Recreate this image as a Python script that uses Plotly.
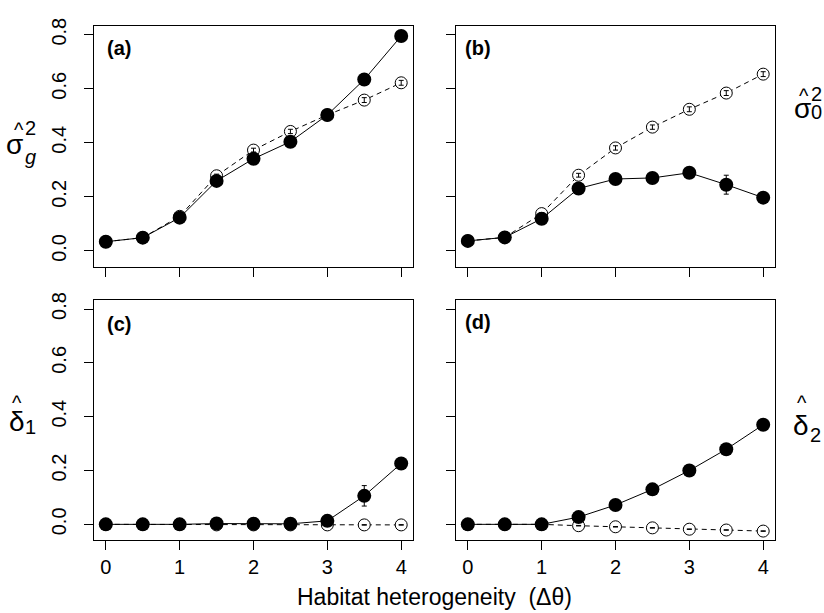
import plotly.graph_objects as go

x = [0, 0.5, 1, 1.5, 2, 2.5, 3, 3.5, 4]

# panel (a) sigma_g^2
a_filled = [0.034, 0.049, 0.123, 0.259, 0.341, 0.404, 0.503, 0.634, 0.795]
a_open = [0.034, 0.049, 0.128, 0.278, 0.373, 0.442, 0.503, 0.558, 0.622]
a_filled_err = [0.002, 0.002, 0.003, 0.004, 0.004, 0.004, 0.005, 0.006, 0.006]
a_open_err = [0.002, 0.002, 0.004, 0.006, 0.007, 0.008, 0.008, 0.009, 0.009]

# panel (b) sigma_0^2
b_filled = [0.037, 0.050, 0.119, 0.231, 0.266, 0.270, 0.289, 0.245, 0.197]
b_open = [0.037, 0.050, 0.138, 0.280, 0.381, 0.458, 0.524, 0.584, 0.654]
b_filled_err = [0.002, 0.002, 0.003, 0.005, 0.005, 0.006, 0.008, 0.035, 0.008]
b_open_err = [0.002, 0.002, 0.004, 0.007, 0.008, 0.008, 0.009, 0.009, 0.009]

# panel (c) delta_1
c_filled = [0.0, 0.0, 0.0, 0.003, 0.002, 0.002, 0.013, 0.106, 0.226]
c_open = [0.0, 0.0, 0.0, -0.002, -0.002, -0.002, -0.002, -0.002, -0.002]
c_filled_err = [0.0005, 0.0005, 0.0005, 0.002, 0.002, 0.002, 0.004, 0.038, 0.006]
c_open_err = [0.0005, 0.0005, 0.0005, 0.001, 0.001, 0.001, 0.001, 0.001, 0.001]

# panel (d) delta_2
d_filled = [0.0, 0.0, 0.0, 0.027, 0.072, 0.130, 0.200, 0.279, 0.370]
d_open = [0.0, 0.0, 0.0, -0.005, -0.009, -0.013, -0.018, -0.021, -0.025]
d_filled_err = [0.0005, 0.0005, 0.0005, 0.002, 0.003, 0.003, 0.004, 0.005, 0.006]
d_open_err = [0.0005, 0.0005, 0.0005, 0.001, 0.001, 0.001, 0.001, 0.001, 0.001]

panel_labels = ["(a)", "(b)", "(c)", "(d)"]
x_ticks = [0, 1, 2, 3, 4]
y_ticks = [0.0, 0.2, 0.4, 0.6, 0.8]
x_title = "Habitat heterogeneity\u00a0\u00a0(\u0394\u03b8)"

W, H = 824, 613
FONT = "Liberation Sans, Arial, Helvetica, sans-serif"

def px(v):
    return v / W

def py(v):
    return 1 - v / H

panels = [
    dict(filled=a_filled, open=a_open, fe=a_filled_err, oe=a_open_err,
         xd=[px(94), px(413)], yd=[py(262), py(18)]),
    dict(filled=b_filled, open=b_open, fe=b_filled_err, oe=b_open_err,
         xd=[px(456), px(775)], yd=[py(262), py(18)]),
    dict(filled=c_filled, open=c_open, fe=c_filled_err, oe=c_open_err,
         xd=[px(94), px(413)], yd=[py(539), py(296)]),
    dict(filled=d_filled, open=d_open, fe=d_filled_err, oe=d_open_err,
         xd=[px(456), px(775)], yd=[py(539), py(296)]),
]

fig = go.Figure()
layout = dict(
    width=W, height=H,
    margin=dict(l=0, r=0, t=0, b=0),
    paper_bgcolor="white", plot_bgcolor="white",
    showlegend=False,
    font=dict(family=FONT, color="black", size=20),
)

for i, p in enumerate(panels):
    n = "" if i == 0 else str(i + 1)
    xa, ya = "x" + n, "y" + n
    # open series (dashed)
    fig.add_trace(go.Scatter(
        x=x, y=p["open"], xaxis=xa, yaxis=ya, mode="lines+markers",
        line=dict(color="black", width=1, dash="5px,4px"),
        marker=dict(symbol="circle", size=12, color="white",
                    line=dict(color="black", width=1)),
        cliponaxis=False,
    ))
    # error bars of the open series, drawn on top of the open circles
    fig.add_trace(go.Scatter(
        x=x, y=p["open"], xaxis=xa, yaxis=ya, mode="markers",
        marker=dict(size=1, color="rgba(0,0,0,0)"),
        error_y=dict(type="data", array=p["oe"], color="black", thickness=1, width=2.5),
        cliponaxis=False,
    ))
    # filled series (solid)
    fig.add_trace(go.Scatter(
        x=x, y=p["filled"], xaxis=xa, yaxis=ya, mode="lines+markers",
        line=dict(color="black", width=1),
        marker=dict(symbol="circle", size=14, color="black"),
        error_y=dict(type="data", array=p["fe"], color="black", thickness=1, width=2.5),
        cliponaxis=False,
    ))
    bottom = i >= 2
    left = i % 2 == 0
    layout["xaxis" + n] = dict(
        domain=p["xd"], range=[-0.16, 4.16], anchor=ya,
        tickvals=x_ticks, ticktext=[str(t) for t in x_ticks],
        showticklabels=bottom, ticks="outside", ticklen=9, tickwidth=1,
        tickcolor="black", showline=True, linecolor="black", linewidth=1,
        mirror=True, showgrid=False, zeroline=False,
        tickfont=dict(size=20, family=FONT),
    )
    layout["yaxis" + n] = dict(
        domain=p["yd"], range=[-0.058, 0.833], anchor=xa,
        tickvals=y_ticks, ticktext=["%.1f" % t for t in y_ticks],
        showticklabels=left, ticks="outside", ticklen=9, tickwidth=1,
        tickcolor="black", showline=True, linecolor="black", linewidth=1,
        mirror=True, showgrid=False, zeroline=False, tickangle=-90,
        ticklabelstandoff=10,
        tickfont=dict(size=20, family=FONT),
    )

ann = []
label_pos = [(105, 41), (463, 41), (105, 320), (463, 318)]
for lab, (lx, ly) in zip(panel_labels, label_pos):
    ann.append(dict(text="<b>%s</b>" % lab, x=px(lx), y=py(ly), xref="paper", yref="paper",
                    xanchor="left", yanchor="middle", showarrow=False,
                    font=dict(size=20, family=FONT)))

def add_sym(main, hatx, haty, mx, my, sup=None, sub=None, sx=None, supy=None, suby=None):
    ann.append(dict(text=main, x=px(mx), y=py(my), xref="paper", yref="paper",
                    xanchor="center", yanchor="middle", showarrow=False,
                    font=dict(size=28, family=FONT)))
    ann.append(dict(text="^", x=px(hatx), y=py(haty), xref="paper", yref="paper",
                    xanchor="center", yanchor="middle", showarrow=False,
                    font=dict(size=20, family=FONT)))
    if sup is not None:
        ann.append(dict(text=sup, x=px(sx), y=py(supy), xref="paper", yref="paper",
                        xanchor="left", yanchor="middle", showarrow=False,
                        font=dict(size=20, family=FONT)))
    if sub is not None:
        ann.append(dict(text=sub, x=px(sx), y=py(suby), xref="paper", yref="paper",
                        xanchor="left", yanchor="middle", showarrow=False,
                        font=dict(size=20, family=FONT)))

# left top: sigma_g^2
add_sym("\u03c3", 19, 124, 15, 138, sup="2", sub="<i>g</i>", sx=23, supy=122, suby=151)
# right top: sigma_0^2
add_sym("\u03c3", 804, 89, 802, 102, sup="2", sub="0", sx=809, supy=87, suby=105)
# left bottom: delta_1
add_sym("\u03b4", 17, 400, 17, 419, sub="1", sx=23, suby=425)
# right bottom: delta_2
add_sym("\u03b4", 802, 400, 801, 423, sub="2", sx=808, suby=433)

ann.append(dict(text=x_title, x=px(434), y=py(597), xref="paper", yref="paper",
                xanchor="center", yanchor="middle", showarrow=False,
                font=dict(size=23, family=FONT)))

layout["annotations"] = ann
fig.update_layout(**layout)
fig.write_html("out.html", config={"displayModeBar": False},
               post_script="document.body.style.margin='0';document.body.style.overflow='hidden';")
